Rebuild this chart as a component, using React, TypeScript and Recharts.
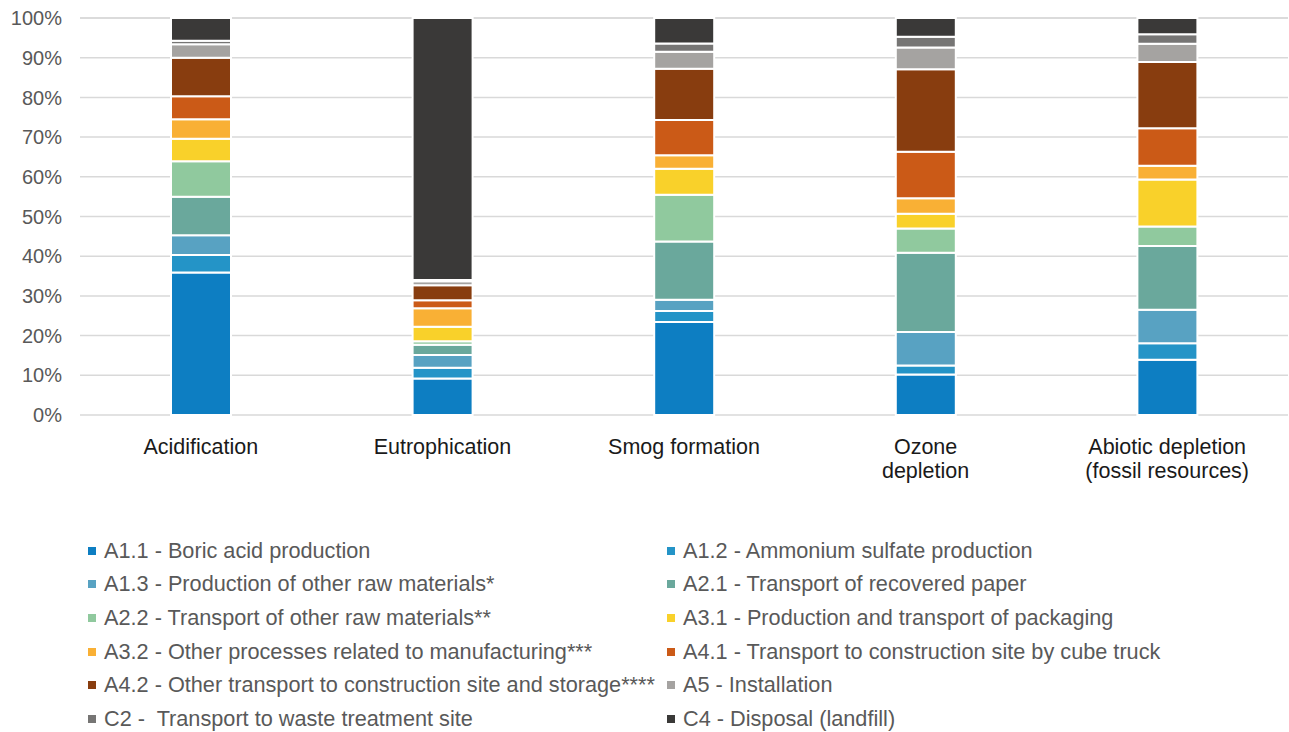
import { BarChart, Bar, XAxis, YAxis, CartesianGrid } from "recharts";

const categories = [
  "Acidification",
  "Eutrophication",
  "Smog formation",
  "Ozone\ndepletion",
  "Abiotic depletion\n(fossil resources)",
];

// contribution per stage, % of total impact
const a11 = [35.9, 9.2, 23.4, 10.2, 13.9];
const a12 = [4.4, 2.7, 2.8, 2.3, 4.2];
const a13 = [5.0, 3.2, 2.8, 8.4, 8.4];
const a21 = [9.7, 2.6, 14.7, 20.0, 16.1];
const a22 = [8.9, 0.9, 11.8, 6.1, 4.9];
const a31 = [5.7, 3.6, 6.5, 3.7, 11.8];
const a32 = [4.9, 4.7, 3.4, 3.9, 3.5];
const a41 = [5.8, 2.0, 8.9, 11.7, 9.4];
const a42 = [9.7, 3.8, 12.9, 20.8, 16.7];
const a5 = [3.4, 1.0, 4.3, 5.5, 4.6];
const c2 = [0.9, 0.3, 2.1, 2.7, 2.4];
const c4 = [5.7, 66.0, 6.4, 4.7, 4.1];

const yTicks = [0, 10, 20, 30, 40, 50, 60, 70, 80, 90, 100];

const series = [
  { key: "a11", name: "A1.1 - Boric acid production", values: a11, color: "#0d7ec2" },
  { key: "a12", name: "A1.2 - Ammonium sulfate production", values: a12, color: "#2494c7" },
  { key: "a13", name: "A1.3 - Production of other raw materials*", values: a13, color: "#58a2c2" },
  { key: "a21", name: "A2.1 - Transport of recovered paper", values: a21, color: "#6aa89c" },
  { key: "a22", name: "A2.2 - Transport of other raw materials**", values: a22, color: "#90c99e" },
  { key: "a31", name: "A3.1 - Production and transport of packaging", values: a31, color: "#f9d12a" },
  { key: "a32", name: "A3.2 - Other processes related to manufacturing***", values: a32, color: "#f9b035" },
  { key: "a41", name: "A4.1 - Transport to construction site by cube truck", values: a41, color: "#cb5a17" },
  { key: "a42", name: "A4.2 - Other transport to construction site and storage****", values: a42, color: "#883d0f" },
  { key: "a5", name: "A5 - Installation", values: a5, color: "#a5a3a1" },
  { key: "c2", name: "C2 -  Transport to waste treatment site", values: c2, color: "#767574" },
  { key: "c4", name: "C4 - Disposal (landfill)", values: c4, color: "#3a3938" },
];

const data = categories.map((cat, i) => {
  const row: Record<string, any> = { cat };
  series.forEach((s) => {
    row[s.key] = s.values[i];
  });
  return row;
});

const FONT = "'Liberation Sans', Arial, sans-serif";

const CatTick = (props: any) => {
  const { x, y, payload } = props;
  const lines = String(payload.value).split("\n");
  return (
    <text x={x} y={y} textAnchor="middle" fill="#1a1a1a" fontSize={21.5} fontFamily={FONT}>
      {lines.map((l: string, i: number) => (
        <tspan key={i} x={x} dy={i === 0 ? 31 : 24}>
          {l}
        </tspan>
      ))}
    </text>
  );
};

export default function App() {
  return (
    <div style={{ position: "absolute", left: 0, top: 0, width: 1289, height: 732, background: "#fff" }}>
      <BarChart
        width={1289}
        height={732}
        data={data}
        margin={{ top: 18, right: 1, left: 0, bottom: 0 }}
      >
        <CartesianGrid vertical={false} stroke="#d9d9d9" strokeWidth={1.5} />
        <XAxis
          dataKey="cat"
          axisLine={false}
          tickLine={false}
          height={317}
          interval={0}
          tick={<CatTick />}
        />
        <YAxis
          width={80}
          domain={[0, 100]}
          ticks={yTicks}
          tickFormatter={(v) => `${v}%`}
          axisLine={false}
          tickLine={false}
          tickSize={0}
          tickMargin={18}
          tick={{ fill: "#595959", fontSize: 20, fontFamily: FONT }}
        />
        {series.map((s) => (
          <Bar
            key={s.key}
            dataKey={s.key}
            name={s.name}
            stackId="a"
            fill={s.color}
            stroke="#ffffff"
            strokeWidth={2}
            barSize={60}
            isAnimationActive={false}
          />
        ))}
      </BarChart>
      <div
        style={{
          position: "absolute",
          left: 88,
          top: 534,
          display: "grid",
          gridTemplateColumns: "579px 620px",
          rowGap: 0,
          fontFamily: FONT,
          fontSize: 21.7,
          color: "#595959",
        }}
      >
        {series.map((s) => (
          <div key={s.key} style={{ display: "flex", alignItems: "center", height: 33.6, whiteSpace: "pre" }}>
            <span style={{ width: 8, height: 8, background: s.color, marginRight: 8, flexShrink: 0 }} />
            <span>{s.name}</span>
          </div>
        ))}
      </div>
    </div>
  );
}
